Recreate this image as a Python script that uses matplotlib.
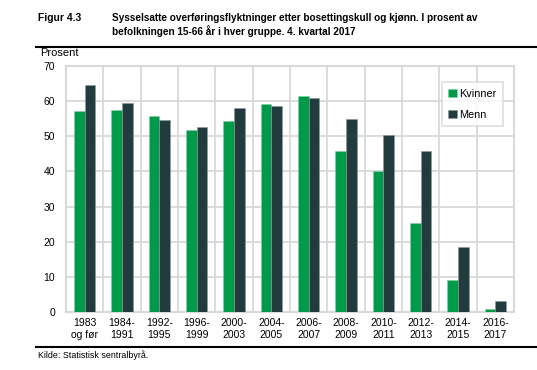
import matplotlib
matplotlib.use('Agg')
import matplotlib.pyplot as plt
import numpy as np

plt.rcParams['font.family'] = ['Liberation Sans', 'DejaVu Sans']

# data
kategorier = ['1983\nog før', '1984-\n1991', '1992-\n1995', '1996-\n1999', '2000-\n2003',
              '2004-\n2005', '2006-\n2007', '2008-\n2009', '2010-\n2011', '2012-\n2013',
              '2014-\n2015', '2016-\n2017']
kvinner = [57.3, 57.5, 55.8, 51.9, 54.3, 59.2, 61.4, 45.8, 40.2, 25.3, 9.0, 0.8]
menn = [64.6, 59.4, 54.5, 52.7, 58.1, 58.7, 60.8, 54.8, 50.5, 45.7, 18.6, 3.0]

gronn = '#009a49'
mork = '#213b3f'
grid_farge = '#d9d9d9'

fig = plt.figure(figsize=(5.37, 3.70), dpi=100)
ax = fig.add_axes([66 / 537, 1 - 312 / 370, 448 / 537, 246 / 370])

x = np.arange(len(kategorier))
w = 0.29
ax.bar(x - w / 2, kvinner, w, color=gronn, edgecolor='#7fcf9f', linewidth=0.4, label='Kvinner', zorder=3)
ax.bar(x + w / 2, menn, w, color=mork, edgecolor='#8a9a9c', linewidth=0.4, label='Menn', zorder=3)

ax.set_xlim(-0.5, len(kategorier) - 0.5)
ax.set_ylim(0, 70)
ax.set_yticks(range(0, 71, 10))
ax.set_xticks(x)
ax.set_xticklabels(kategorier, fontsize=7.5, linespacing=1.25)
ax.set_xticks(np.arange(-0.5, len(kategorier), 1), minor=True)
ax.tick_params(axis='y', labelsize=7.5, length=0, pad=8)
ax.tick_params(axis='x', which='both', length=0, pad=4)
ax.grid(axis='y', color=grid_farge, linewidth=1.3, zorder=0)
ax.grid(axis='x', which='minor', color=grid_farge, linewidth=1.3, zorder=0)
ax.grid(axis='x', which='major', visible=False)
for s in ax.spines.values():
    s.set_color(grid_farge)
    s.set_linewidth(1.5)

leg = ax.legend(loc='upper right', bbox_to_anchor=(0.987, 0.955), fontsize=7.8, frameon=True,
                fancybox=False, handlelength=0.8, handleheight=0.8, handletextpad=0.2,
                labelspacing=1.0, borderpad=0.6)
leg.get_frame().set_edgecolor(grid_farge)
leg.get_frame().set_linewidth(1.3)

fig.text(38 / 537, 1 - 18 / 370, 'Figur 4.3', fontsize=7.4, fontweight='bold', va='center')
fig.text(112 / 537, 1 - 18 / 370,
         'Sysselsatte overføringsflyktninger etter bosettingskull og kjønn. I prosent av',
         fontsize=7.2, fontweight='bold', va='center')
fig.text(112 / 537, 1 - 31 / 370, 'befolkningen 15-66 år i hver gruppe. 4. kvartal 2017',
         fontsize=7.2, fontweight='bold', va='center')
fig.text(40 / 537, 1 - 53 / 370, 'Prosent', fontsize=8, va='center')
fig.text(38 / 537, 1 - 355 / 370, 'Kilde: Statistisk sentralbyrå.', fontsize=6.4, va='center')

fig.add_artist(plt.Line2D([36 / 537, 1], [1 - 47 / 370, 1 - 47 / 370], color='black', linewidth=1.5))
fig.add_artist(plt.Line2D([36 / 537, 1], [1 - 347 / 370, 1 - 347 / 370], color='black', linewidth=1.5))

fig.savefig('out.png', dpi=100)
